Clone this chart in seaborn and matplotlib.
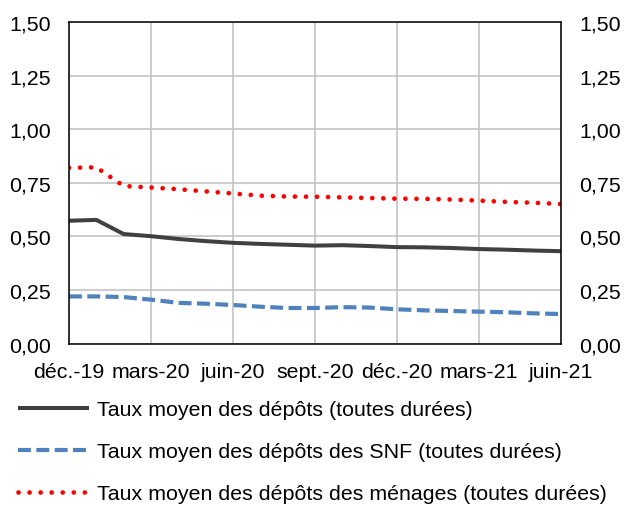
import pandas as pd
import seaborn as sns
import matplotlib
matplotlib.use("Agg")
import matplotlib.pyplot as plt

# monthly data, dec-19 .. jun-21
months = ["déc.-19", "janv.-20", "févr.-20", "mars-20", "avr.-20", "mai-20", "juin-20",
          "juil.-20", "août-20", "sept.-20", "oct.-20", "nov.-20", "déc.-20",
          "janv.-21", "févr.-21", "mars-21", "avr.-21", "mai-21", "juin-21"]
taux_total = [0.573, 0.577, 0.511, 0.501, 0.488, 0.478, 0.470, 0.465, 0.461, 0.457,
              0.459, 0.455, 0.450, 0.449, 0.446, 0.441, 0.438, 0.434, 0.431]
taux_snf = [0.220, 0.220, 0.217, 0.205, 0.190, 0.186, 0.180, 0.172, 0.166, 0.166,
            0.170, 0.168, 0.160, 0.155, 0.152, 0.149, 0.146, 0.141, 0.138]
taux_menages = [0.820, 0.822, 0.735, 0.728, 0.720, 0.710, 0.700, 0.690, 0.686, 0.685,
                0.682, 0.679, 0.676, 0.675, 0.672, 0.667, 0.661, 0.657, 0.651]
series_names = ["Taux moyen des dépôts (toutes durées)",
                "Taux moyen des dépôts des SNF (toutes durées)",
                "Taux moyen des dépôts des ménages (toutes durées)"]
y_ticks = [0, 0.25, 0.5, 0.75, 1.0, 1.25, 1.5]
y_labels = ["0,00", "0,25", "0,50", "0,75", "1,00", "1,25", "1,50"]
x_ticks = [0, 3, 6, 9, 12, 15, 18]

df = pd.DataFrame({"mois": range(len(months)),
                   series_names[0]: taux_total,
                   series_names[1]: taux_snf,
                   series_names[2]: taux_menages})
long = df.melt(id_vars="mois", var_name="serie", value_name="taux")

sns.set_style("white")
plt.rcParams['font.family'] = ['Liberation Sans', 'DejaVu Sans']
plt.rcParams['font.size'] = 15.4
plt.rcParams['text.color'] = 'black'
plt.rcParams['xtick.color'] = 'black'
plt.rcParams['ytick.color'] = 'black'

fig = plt.figure(figsize=(6.25, 5.06), dpi=100)
ax = fig.add_axes([0.1104, 0.319, 0.7872, 0.6355])

colors = {series_names[0]: "#404040", series_names[1]: "#4F81BD", series_names[2]: "#FF0000"}
sns.lineplot(data=long, x="mois", y="taux", hue="serie", palette=colors, ax=ax,
             legend=False, linewidth=2.9)
lines = ax.get_lines()
lines[0].set_solid_capstyle("butt")
lines[1].set_linewidth(3.0)
lines[1].set_dashes((3.1, 1.3))
lines[1].set_dash_capstyle("butt")
lines[2].set_linewidth(3.4)
lines[2].set_dashes((0.01, 2.33))
lines[2].set_dash_capstyle("round")

ax.set_xlim(0, 18)
ax.set_ylim(0, 1.5)
ax.set_xticks(x_ticks)
ax.set_xticklabels([months[i] for i in x_ticks])
ax.set_yticks(y_ticks)
ax.set_yticklabels(y_labels)
ax.set_xlabel("")
ax.set_ylabel("")
ax.grid(True, color="#BFBFBF", linewidth=1.1)
ax.set_axisbelow(True)
for s in ax.spines.values():
    s.set_visible(True)
    s.set_color("black")
    s.set_linewidth(1.1)
ax.tick_params(axis="y", length=0, pad=13)
ax.tick_params(axis="x", length=0, pad=13.5)

ax2 = ax.twinx()
ax2.set_ylim(0, 1.5)
ax2.set_yticks(y_ticks)
ax2.set_yticklabels(y_labels)
ax2.tick_params(axis="y", length=0, pad=13)
for s in ax2.spines.values():
    s.set_visible(False)

fig.legend(lines, series_names, loc="upper left", bbox_to_anchor=(0.0288, 0.2075),
           frameon=False, handlelength=3.32, handletextpad=0.37, labelspacing=1.08,
           borderaxespad=0, borderpad=0, fontsize=15.4)

fig.savefig("out.png", dpi=100)
